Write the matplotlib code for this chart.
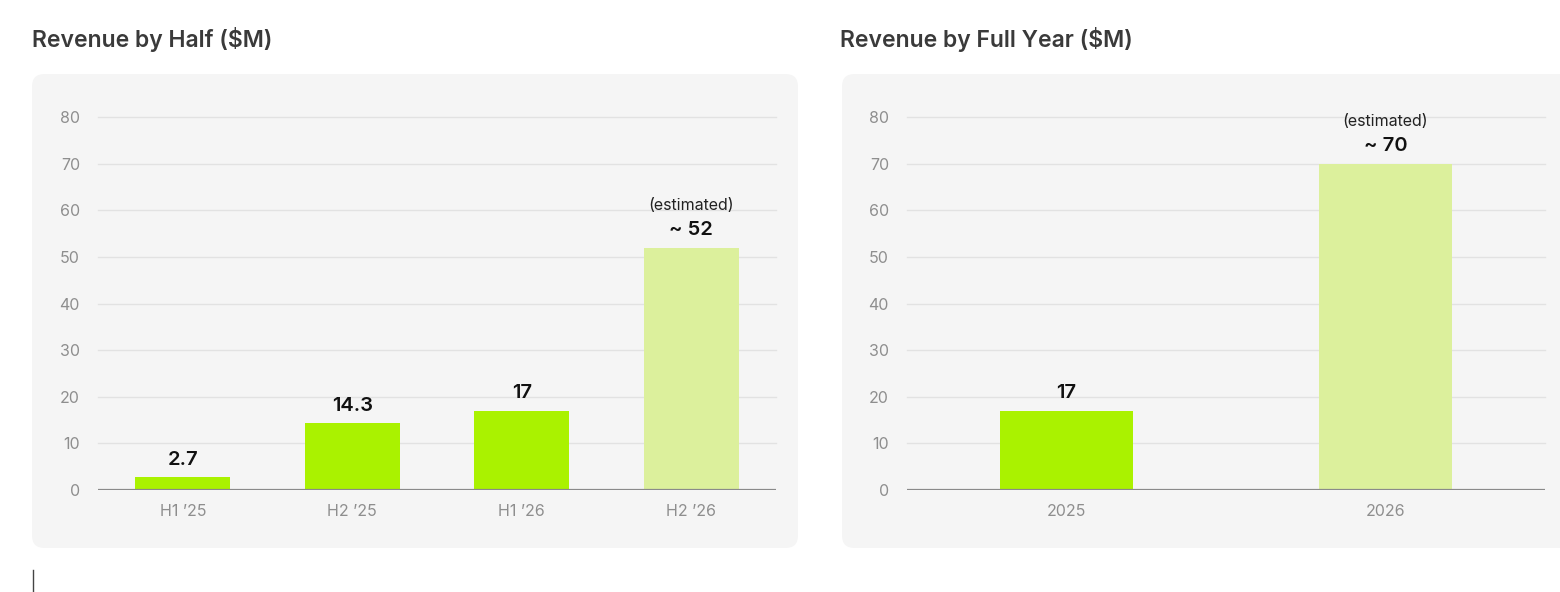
import matplotlib
matplotlib.use("Agg")
import matplotlib.pyplot as plt
from matplotlib.patches import FancyBboxPatch
from matplotlib.lines import Line2D

plt.rcParams['font.family'] = ['Inter', 'DejaVu Sans']

# ---- data ----
half_labels = ["H1 \u201925", "H2 \u201925", "H1 \u201926", "H2 \u201926"]
half_values = [2.7, 14.3, 17, 52]
half_texts = ["2.7", "14.3", "17", "~ 52"]
half_estimated = [False, False, False, True]

year_labels = ["2025", "2026"]
year_values = [17, 70]
year_texts = ["17", "~ 70"]
year_estimated = [False, True]

y_ticks = [0, 10, 20, 30, 40, 50, 60, 70, 80]

title_left = "Revenue by Half ($M)"
title_right = "Revenue by Full Year ($M)"

# ---- style ----
GREEN = "#aaf200"
LIGHT = "#dcf09c"
PANEL = "#f5f5f5"
GRID = "#e2e2e2"
BASE = "#8a8a8a"
TICK = "#8e8e8e"

W, H = 1560, 592
fig = plt.figure(figsize=(W / 100, H / 100), dpi=100)
fig.patch.set_facecolor("white")

def fx(px):
    return px / W

def fy(py):
    return 1 - py / H

# panel boxes
for x0, x1 in [(32, 798), (842, 1575)]:
    box = FancyBboxPatch((fx(x0), fy(548)), fx(x1 - x0), (548 - 74) / H,
                         boxstyle="round,pad=0,rounding_size=0.008",
                         transform=fig.transFigure, facecolor=PANEL,
                         edgecolor="none", zorder=-5,
                         mutation_aspect=W / H)
    fig.patches.append(box)

fig.text(fx(32), fy(40), title_left, fontsize=16.5, fontweight="semibold",
         color="#3a3a3a", ha="left", va="center")
fig.text(fx(840), fy(40), title_right, fontsize=16.5, fontweight="semibold",
         color="#3a3a3a", ha="left", va="center")

# cursor artifact
fig.add_artist(Line2D([fx(33), fx(33)], [fy(570), fy(592)], transform=fig.transFigure,
                      color="#444444", linewidth=1))

def draw(ax, labels, values, texts, est, width):
    ax.set_zorder(2)
    ax.set_facecolor("none")
    x = list(range(len(labels)))
    colors = [LIGHT if e else GREEN for e in est]
    ax.bar(x, values, width=width, color=colors, zorder=2)
    ax.set_xlim(-0.5, len(labels) - 0.5)
    ax.set_ylim(0, 80)
    ax.set_yticks(y_ticks)
    ax.set_xticks(x)
    ax.set_xticklabels(labels)
    for s in ax.spines.values():
        s.set_visible(False)
    ax.axhline(0, color=BASE, linewidth=1.6, zorder=3)
    for t in y_ticks[1:]:
        ax.axhline(t, color=GRID, linewidth=1.0, zorder=1, clip_on=False)
    ax.tick_params(axis="both", length=0, labelsize=11.5, labelcolor=TICK)
    ax.tick_params(axis="y", pad=13)
    ax.tick_params(axis="x", pad=10)
    for xi, v, t, e in zip(x, values, texts, est):
        ax.annotate(t, (xi, v), xytext=(0, 6), textcoords="offset points",
                    ha="center", va="bottom", fontsize=14.5, fontweight="semibold",
                    color="#111111")
        if e:
            ax.annotate("(estimated)", (xi, v), xytext=(0, 25), textcoords="offset points",
                        ha="center", va="bottom", fontsize=11.5, color="#222222")

ax1 = fig.add_axes([fx(98), fy(490), fx(776 - 98), (490 - 117) / H])
draw(ax1, half_labels, half_values, half_texts, half_estimated, 0.56)

ax2 = fig.add_axes([fx(907), fy(490), fx(1545 - 907), (490 - 117) / H])
draw(ax2, year_labels, year_values, year_texts, year_estimated, 0.417)

fig.savefig("out.png", dpi=100, facecolor="white")
